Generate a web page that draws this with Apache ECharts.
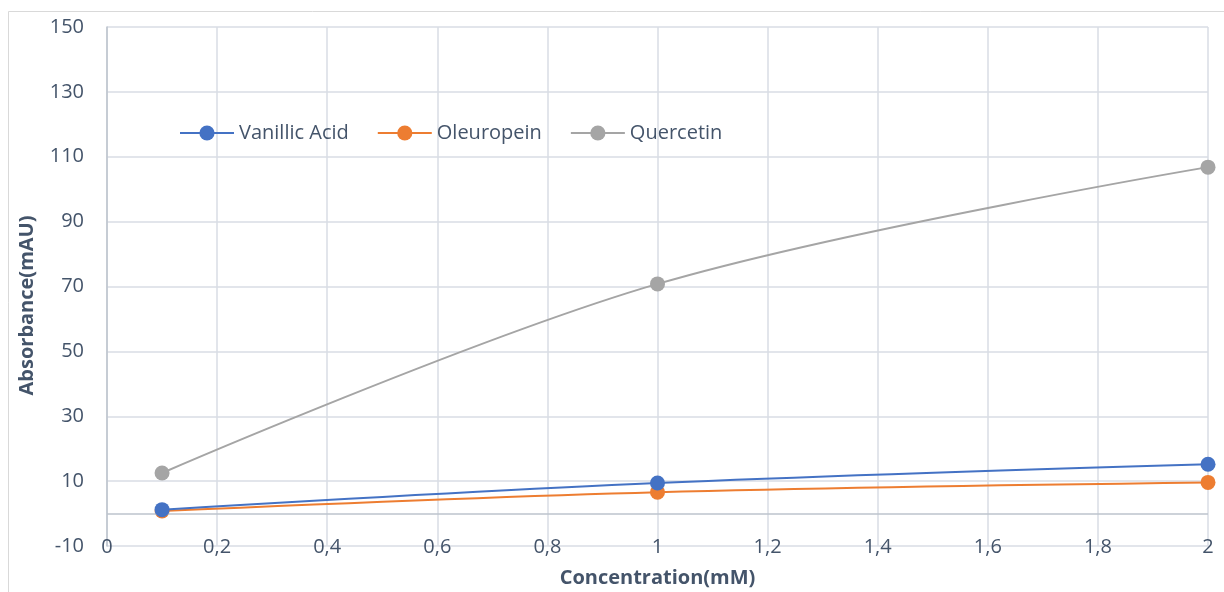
<!DOCTYPE html>
<html>
<head>
<meta charset="utf-8">
<script src="https://cdn.jsdelivr.net/npm/echarts@6/dist/echarts.min.js"></script>
<style>
  html, body { margin: 0; padding: 0; background: #fff; }
  #chart { width: 1224px; height: 592px; }
</style>
</head>
<body>
<div id="chart"></div>
<script>
// Concentration (mM) and measured absorbance (mAU) per compound
const concentrations = [0.1, 1, 2];
const vanillicAcid = [1.2, 9.4, 15.2];
const oleuropein   = [0.8, 6.6, 9.6];
const quercetin    = [12.5, 70.8, 106.8];

const seriesNames  = ['Vanillic Acid', 'Oleuropein', 'Quercetin'];
const seriesColors = ['#4472c4', '#ed7d31', '#a5a5a5'];
const seriesValues = [vanillicAcid, oleuropein, quercetin];

const textColor = '#44546a';
const gridColor = '#d9dde4';
const axisColor = '#bcc3cc';
const fontFamily = '"Open Sans", "Noto Sans", sans-serif';

const chart = echarts.init(document.getElementById('chart'));

const series = seriesNames.map((name, i) => ({
  name,
  type: 'line',
  smooth: 0.35,
  symbol: 'circle',
  symbolSize: 15,
  color: seriesColors[i],
  lineStyle: { width: 2, color: seriesColors[i] },
  itemStyle: { color: seriesColors[i] },
  data: concentrations.map((c, k) => [c, seriesValues[i][k]]),
  z: 3 + (2 - i)
}));

// zero baseline drawn across the plot
series[0].markLine = {
  silent: true,
  symbol: 'none',
  label: { show: false },
  lineStyle: { color: axisColor, width: 1.5, type: 'solid' },
  data: [{ yAxis: 0 }]
};

chart.setOption({
  animation: false,
  backgroundColor: '#fff',
  textStyle: { fontFamily },
  graphic: [{
    type: 'rect',
    shape: { x: 8.5, y: 11.5, width: 1230, height: 600 },
    style: { fill: 'none', stroke: '#d9d9d9', lineWidth: 1 },
    silent: true
  }],
  grid: { left: 107, right: 16, top: 27, bottom: 46, outerBoundsMode: 'none', containLabel: false },
  legend: {
    left: 174,
    top: 118,
    itemWidth: 54,
    itemHeight: 19,
    itemGap: 28,
    textStyle: { color: textColor, fontSize: 20, fontFamily },
    data: seriesNames
  },
  xAxis: {
    type: 'value',
    min: 0,
    max: 2,
    interval: 0.2,
    name: 'Concentration(mM)',
    nameLocation: 'middle',
    nameGap: 22,
    nameTextStyle: { color: textColor, fontSize: 20, fontWeight: 'bold', fontFamily },
    axisLine: { show: false },
    axisTick: { show: false },
    axisLabel: {
      color: textColor,
      fontSize: 20,
      margin: 1,
      verticalAlign: 'middle',
      formatter: v => String(Math.round(v * 10) / 10).replace('.', ',')
    },
    splitLine: { show: true, lineStyle: { color: gridColor, width: 1.5 } }
  },
  yAxis: {
    type: 'value',
    min: -10,
    max: 150,
    interval: 20,
    name: 'Absorbance(mAU)',
    nameLocation: 'middle',
    nameGap: 70,
    nameTextStyle: {
      color: textColor, fontSize: 20, fontWeight: 'bold', fontFamily,
      padding: [0, 38, 0, 0]
    },
    axisLine: { show: true, lineStyle: { color: axisColor, width: 1.5 } },
    axisTick: { show: false },
    axisLabel: { color: textColor, fontSize: 20, margin: 23 },
    splitLine: { show: true, lineStyle: { color: gridColor, width: 1.5 } }
  },
  series
});
</script>
</body>
</html>
